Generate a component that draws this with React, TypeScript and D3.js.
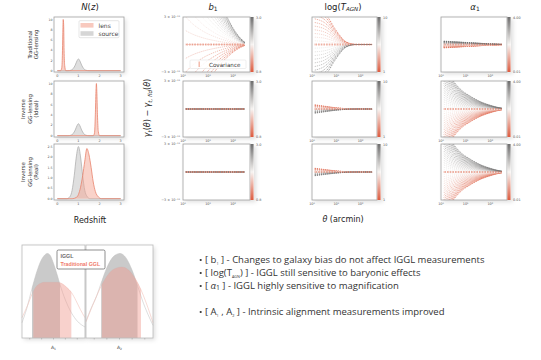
import React from 'react';
import * as d3 from 'd3';

const THETA = [1.3, 2, 3, 5, 8, 13, 20, 35, 60, 100, 170, 300];

// parameter grids varied in each column
const B1_VALUES = [0.8, 0.9, 1.0, 1.1, 1.2, 1.3, 1.4, 1.5, 1.6, 1.7, 1.8, 1.9, 2.0, 2.1, 2.2, 2.3, 2.4, 2.5, 2.6, 2.7, 2.8, 2.9, 3.0];
const B1_FID = 1.5;
const TAGN_VALUES = [7.3, 7.35, 7.4, 7.45, 7.5, 7.55, 7.6, 7.65, 7.7, 7.75, 7.8, 7.85, 7.9, 7.95, 8.0, 8.05, 8.1, 8.15, 8.2, 8.25, 8.3];
const TAGN_FID = 7.8;
const ALPHA_VALUES = [
  0.0, 0.1, 0.2, 0.3, 0.4, 0.5, 0.6, 0.7, 0.8, 0.9, 1.0, 1.1, 1.2, 1.3, 1.4, 1.5, 1.6, 1.7, 1.8, 1.9, 2.0,
  2.1, 2.2, 2.3, 2.4, 2.5, 2.6, 2.7, 2.8, 2.9, 3.0, 3.1, 3.2, 3.3, 3.4, 3.5, 3.6, 3.7, 3.8, 3.9, 4.0,
];
const ALPHA_FID = 2.0;

// change of gamma_t per unit parameter shift (units of 1e-11), one value per THETA
const RESP_B1_TRAD = [15, 12.3, 10.2, 8.1, 6.45, 5.1, 4.05, 2.85, 1.95, 1.2, 0.6, 0.15];
const RESP_B1_INV = [0, 0, 0, 0, 0, 0, 0, 0, 0, 0, 0, 0];
const RESP_TAGN_TRAD = [-8, -7.6, -7, -5.6, -3.8, -2.2, -1, -0.25, 0, 0, 0, 0];
const RESP_TAGN_IDEAL = [-0.9, -0.77, -0.63, -0.47, -0.32, -0.2, -0.11, -0.04, -0.01, 0, 0, 0];
const RESP_TAGN_REAL = [-0.8, -0.68, -0.56, -0.42, -0.29, -0.18, -0.1, -0.03, -0.01, 0, 0, 0];
const RESP_ALPHA_TRAD = [0.18, 0.17, 0.155, 0.14, 0.12, 0.105, 0.09, 0.07, 0.05, 0.032, 0.016, 0.004];
const RESP_ALPHA_INV = [2.5, 1.95, 1.55, 1.18, 0.93, 0.75, 0.6, 0.43, 0.3, 0.2, 0.11, 0.04];

// redshift distributions
const NZ_SRC_Z = [0, 0.5, 0.65, 0.75, 0.85, 0.93, 1.0, 1.07, 1.15, 1.25, 1.35, 1.5, 3];
const NZ_SRC_N = [0, 0, 0.1, 0.4, 1.1, 1.9, 2.3, 1.9, 1.1, 0.4, 0.1, 0, 0];
const NZ_LENS_TRAD_Z = [0, 0.15, 0.21, 0.24, 0.26, 0.28, 0.3, 0.32, 0.35, 0.4, 3];
const NZ_LENS_TRAD_N = [0, 0, 0.5, 3, 7, 10, 9, 4, 1, 0, 0];
const NZ_LENS_IDEAL_Z = [0, 1.7, 1.76, 1.8, 1.83, 1.85, 1.87, 1.9, 1.94, 2.0, 3];
const NZ_LENS_IDEAL_N = [0, 0, 0.5, 4, 8.5, 10, 8.5, 4, 0.8, 0, 0];
const NZ_SRC_REAL_Z = [0, 0.45, 0.6, 0.7, 0.8, 0.9, 1.0, 1.1, 1.2, 1.3, 1.4, 1.55, 3];
const NZ_SRC_REAL_N = [0, 0, 0.1, 0.4, 1.1, 2.0, 2.5, 2.0, 1.1, 0.4, 0.12, 0, 0];
const NZ_LENS_REAL_Z = [0, 0.7, 0.9, 1.0, 1.1, 1.2, 1.3, 1.4, 1.5, 1.6, 1.7, 1.8, 1.95, 2.1, 3];
const NZ_LENS_REAL_N = [0, 0, 0.06, 0.2, 0.55, 1.1, 1.8, 2.4, 2.1, 1.5, 0.8, 0.35, 0.08, 0, 0];

// intrinsic alignment posteriors
const A1_IGGL_X = [-5.3, -4.5, -3.6, -3, -2.2, -1.5, -1, -0.5, 0, 0.6, 1.1, 2, 3, 4, 5.3];
const A1_IGGL_P = [0.18, 0.35, 0.59, 0.74, 0.9, 0.98, 1.0, 0.97, 0.88, 0.75, 0.63, 0.45, 0.3, 0.2, 0.13];
const A1_TRAD_X = [-5.3, -4.4, -3.6, -3, -2.4, -1.5, -0.5, 0.5, 1.5, 2.2, 3, 3.8, 4.5, 5.3];
const A1_TRAD_P = [0.24, 0.38, 0.52, 0.6, 0.64, 0.66, 0.66, 0.66, 0.64, 0.6, 0.54, 0.44, 0.34, 0.24];
const A2_IGGL_X = [-5.3, -4.5, -3.6, -2.9, -2, -1, 0.1, 1, 2, 2.85, 3.6, 4.5, 5.3];
const A2_IGGL_P = [0.2, 0.35, 0.5, 0.65, 0.83, 0.96, 1.0, 0.95, 0.8, 0.62, 0.45, 0.28, 0.15];
const A2_TRAD_X = [-5.3, -4.5, -3.6, -2.8, -2, -1, 0.35, 1.5, 2.5, 3.4, 4.2, 5.3];
const A2_TRAD_P = [0.19, 0.34, 0.5, 0.63, 0.73, 0.81, 0.84, 0.8, 0.7, 0.57, 0.42, 0.18];
const A1_IGGL_CI = [-3.6, 1.1];
const A1_TRAD_CI = [-3.4, 3.0];
const A2_IGGL_CI = [-2.9, 2.85];
const A2_TRAD_CI = [-2.8, 3.4];

const ROW_LABELS = [['Traditional', 'GG-lensing'], ['Inverse', 'GG-lensing', '(Ideal)'], ['Inverse', 'GG-lensing', '(Real)']];

// layout
const ROW_Y = [[17, 72], [81, 137], [144, 200]];
const COL_X = [[183, 250], [312, 377], [441, 507]];
const NZ_X = [54, 124];

const FONT = 'DejaVu Sans, sans-serif';
const cmap = d3.scaleLinear<string>().domain([0, 0.5, 1]).range(['#dd5b3f', '#f7f4f2', '#6d6d6d']).interpolate(d3.interpolateRgb);

const COLUMNS = [
  { key: 'b1', values: B1_VALUES, fid: B1_FID, lo: 0.8, hi: 3.0, cbar: ['3.0', '0.8'], resp: [RESP_B1_TRAD, RESP_B1_INV, RESP_B1_INV] },
  { key: 'tagn', values: TAGN_VALUES, fid: TAGN_FID, lo: 7.3, hi: 8.3, cbar: ['10', '1'], resp: [RESP_TAGN_TRAD, RESP_TAGN_IDEAL, RESP_TAGN_REAL] },
  { key: 'alpha', values: ALPHA_VALUES, fid: ALPHA_FID, lo: 0, hi: 4, cbar: ['4.00', '0.01'], resp: [RESP_ALPHA_TRAD, RESP_ALPHA_INV, RESP_ALPHA_INV] },
];

const RespPanel = ({ ci, ri }: { ci: number; ri: number }) => {
  const col = COLUMNS[ci];
  const [x0, x1] = COL_X[ci];
  const [y0, y1] = ROW_Y[ri];
  const x = d3.scaleLog().domain([1, 480]).range([x0, x1]);
  const y = d3.scaleLinear().domain([-3, 3]).range([y1, y0]);
  const resp = col.resp[ri];
  const line = d3.line<number>().x((_, i) => x(THETA[i])).y(d => y(d)).curve(d3.curveMonotoneX);
  const clip = `clip-${ci}-${ri}`;
  const curves = col.values.map(p => ({ p, pts: resp.map(r => (p - col.fid) * r) }));
  return (
    <g>
      <rect x={x0} y={y0} width={x1 - x0 + 4} height={y1 - y0} fill="#fff" filter="url(#shadow)" />
      <clipPath id={clip}><rect x={x0} y={y0} width={x1 - x0} height={y1 - y0} /></clipPath>
      <g clipPath={`url(#${clip})`}>
        {curves.map((c, i) => (
          <path key={i} d={line(c.pts) || ''} fill="none"
            stroke={cmap((c.p - col.lo) / (col.hi - col.lo))}
            strokeWidth={0.7} strokeDasharray="1.2,0.9" opacity={0.95} />
        ))}
        <line x1={x(THETA[0])} x2={x(THETA[THETA.length - 1])} y1={y(0)} y2={y(0)}
          stroke="#e06a50" strokeWidth={2.2} strokeDasharray="0.6,1.0" opacity={0.85} />
      </g>
      <rect x={x0} y={y0} width={x1 - x0} height={y1 - y0} fill="none" stroke="#a0a0a0" strokeWidth={0.8} />
      <rect x={x1 + 0.4} y={y0} width={3.2} height={y1 - y0} fill="url(#cmapGrad)" />
      <text x={x1 + 6} y={y0 + 1.5} fontSize={3.4} fill="#555" fontFamily={FONT}>{col.cbar[0]}</text>
      <text x={x1 + 6} y={y1 + 1} fontSize={3.4} fill="#555" fontFamily={FONT}>{col.cbar[1]}</text>
      {[1, 10, 100].map((t, i) => (
        <text key={t} x={x(t)} y={y1 + 4.5} fontSize={3.4} fill="#555" textAnchor="middle" fontFamily={FONT}>
          {['10⁰', '10¹', '10²'][i]}
        </text>
      ))}
      {ci === 0 && (
        <g fontSize={3.4} fill="#555" textAnchor="end" fontFamily={FONT}>
          <text x={x0 - 3} y={y0 + 1.2}>3 × 10⁻¹¹</text>
          <text x={x0 - 3} y={y1 + 1.2}>−3 × 10⁻¹¹</text>
        </g>
      )}
      {ci === 0 && ri === 0 && (
        <g>
          <rect x={190} y={60} width={56} height={8.5} rx={1} fill="#fff" fillOpacity={0.85} stroke="#ddd" strokeWidth={0.5} />
          <rect x={198.5} y={61.5} width={1.4} height={5.5} fill="#f2b6a6" />
          <text x={209} y={66.6} fontSize={5.6} fill="#333" fontFamily={FONT}>Covariance</text>
        </g>
      )}
    </g>
  );
};

const NzPanel = ({ ri }: { ri: number }) => {
  const [y0, y1] = ROW_Y[ri];
  const x = d3.scaleLinear().domain([0, 3]).range([57.3, 120.7]);
  const yMax = ri === 2 ? 2.5 : 10;
  const y = d3.scaleLinear().domain([0, yMax]).range([y1 - 1.3, y0 + 2.5]);
  const area = d3.area<[number, number]>().x(d => x(d[0])).y0(y(0)).y1(d => y(d[1])).curve(d3.curveMonotoneX);
  const lineG = d3.line<[number, number]>().x(d => x(d[0])).y(d => y(d[1])).curve(d3.curveMonotoneX);
  const srcZ = ri === 2 ? NZ_SRC_REAL_Z : NZ_SRC_Z;
  const srcN = ri === 2 ? NZ_SRC_REAL_N : NZ_SRC_N;
  const lensZ = [NZ_LENS_TRAD_Z, NZ_LENS_IDEAL_Z, NZ_LENS_REAL_Z][ri];
  const lensN = [NZ_LENS_TRAD_N, NZ_LENS_IDEAL_N, NZ_LENS_REAL_N][ri];
  const src = srcZ.map((z, i) => [z, srcN[i]] as [number, number]);
  const lens = lensZ.map((z, i) => [z, lensN[i]] as [number, number]);
  const yTicks = ri === 2 ? [0, 0.5, 1, 1.5, 2, 2.5] : [0, 2, 4, 6, 8, 10];
  const cy = (y0 + y1) / 2;
  const labels = ROW_LABELS[ri];
  const lx = labels.length === 2 ? [30, 36.5] : [23.5, 30, 36.5];
  return (
    <g>
      <rect x={NZ_X[0]} y={y0} width={NZ_X[1] - NZ_X[0]} height={y1 - y0} fill="#fff" filter="url(#shadow)" />
      <path d={area(src) || ''} fill="#c4c4c4" fillOpacity={0.55} />
      <path d={lineG(src) || ''} fill="none" stroke="#b0b0b0" strokeWidth={0.8} />
      <path d={area(lens) || ''} fill="#f3a593" fillOpacity={0.5} />
      <path d={lineG(lens) || ''} fill="none" stroke="#e8836c" strokeWidth={0.8} />
      <rect x={NZ_X[0]} y={y0} width={NZ_X[1] - NZ_X[0]} height={y1 - y0} fill="none" stroke="#a0a0a0" strokeWidth={0.8} />
      {[0, 1, 2, 3].map(t => (
        <text key={t} x={x(t)} y={y1 + 4.5} fontSize={3.4} fill="#555" textAnchor="middle" fontFamily={FONT}>{t}</text>
      ))}
      {yTicks.map(t => (
        <text key={t} x={NZ_X[0] - 1.5} y={y(t) + 1.2} fontSize={3.2} fill="#555" textAnchor="end" fontFamily={FONT}>
          {ri === 2 ? t.toFixed(1) : t}
        </text>
      ))}
      {labels.map((s, i) => (
        <text key={i} transform={`translate(${lx[i]},${cy}) rotate(-90)`} textAnchor="middle" dy="0.35em"
          fontSize={5.4} fill="#333" fontFamily={FONT}>{s}</text>
      ))}
      {ri === 0 && (
        <g fontFamily={FONT} fontSize={6} fill="#444">
          <rect x={79} y={20.7} width={40} height={17} rx={1} fill="#fff" stroke="#ccc" strokeWidth={0.5} />
          <rect x={80.5} y={23} width={13} height={4.6} fill="#f3a593" fillOpacity={0.6} />
          <rect x={80.5} y={31.2} width={13} height={4.6} fill="#c4c4c4" fillOpacity={0.7} />
          <text x={98.5} y={27.5}>lens</text>
          <text x={98.5} y={35.7}>source</text>
        </g>
      )}
    </g>
  );
};

const PostPanel = ({ idx }: { idx: number }) => {
  const [px0, px1] = idx === 0 ? [22, 85] : [86, 153];
  const py0 = 245, py1 = 338;
  const x = d3.scaleLinear().domain([-5.3, 5.3]).range([px0, px1]);
  const y = d3.scaleLinear().domain([0, 1.1]).range([py1, py0]);
  const igX = idx === 0 ? A1_IGGL_X : A2_IGGL_X;
  const igP = idx === 0 ? A1_IGGL_P : A2_IGGL_P;
  const trX = idx === 0 ? A1_TRAD_X : A2_TRAD_X;
  const trP = idx === 0 ? A1_TRAD_P : A2_TRAD_P;
  const igCI = idx === 0 ? A1_IGGL_CI : A2_IGGL_CI;
  const trCI = idx === 0 ? A1_TRAD_CI : A2_TRAD_CI;
  const ig = igX.map((a, i) => [a, igP[i]] as [number, number]);
  const tr = trX.map((a, i) => [a, trP[i]] as [number, number]);
  const area = d3.area<[number, number]>().x(d => x(d[0])).y0(y(0)).y1(d => y(d[1])).curve(d3.curveMonotoneX);
  const line = d3.line<[number, number]>().x(d => x(d[0])).y(d => y(d[1])).curve(d3.curveMonotoneX);
  const id = `post-${idx}`;
  return (
    <g>
      <rect x={px0} y={py0} width={px1 - px0} height={py1 - py0} fill="#fff" filter="url(#shadow)" />
      <clipPath id={`${id}-ig`}><rect x={x(igCI[0])} y={py0} width={x(igCI[1]) - x(igCI[0])} height={py1 - py0} /></clipPath>
      <clipPath id={`${id}-tr`}><rect x={x(trCI[0])} y={py0} width={x(trCI[1]) - x(trCI[0])} height={py1 - py0} /></clipPath>
      <path d={line(ig) || ''} fill="none" stroke="#c8c8c8" strokeWidth={0.6} />
      <path d={line(tr) || ''} fill="none" stroke="#f2c2bb" strokeWidth={0.6} />
      <path d={area(ig) || ''} fill="#bdbdbd" fillOpacity={0.8} clipPath={`url(#${id}-ig)`} />
      <path d={area(tr) || ''} fill="#ef9a8e" fillOpacity={0.45} clipPath={`url(#${id}-tr)`} />
      <rect x={px0} y={py0} width={px1 - px0} height={py1 - py0} fill="none" stroke="#bbb" strokeWidth={0.8} />
      {[-4, -2, 0, 2, 4].map(t => (
        <line key={t} x1={x(t)} x2={x(t)} y1={py1} y2={py1 + 1.5} stroke="#888" strokeWidth={0.4} />
      ))}
      <text x={(px0 + px1) / 2} y={349} fontSize={4.6} fill="#444" textAnchor="middle" fontFamily={FONT}>
        A<tspan fontSize={3} dy={1}>{idx + 1}</tspan>
      </text>
    </g>
  );
};

// subscript followed by the rest of the line back on the baseline
const Sub = ({ s, tail }: { s: string; tail: string }) => (
  <>
    <tspan fontSize={3.8} dy={1.8}>{s}</tspan>
    <tspan dy={-1.8}>{tail}</tspan>
  </>
);

const App = () => {
  const bx = 205;
  const bullets = [
    { y: 263, el: <>[ b<Sub s="1" tail=" ] - Changes to galaxy bias do not affect IGGL measurements" /></> },
    { y: 276, el: <>[ log(T<Sub s="AGN" tail=") ] - IGGL still sensitive to baryonic effects" /></> },
    { y: 289, el: <>[ <tspan fontStyle="italic">α</tspan><tspan fontSize={6.8} dy={1}>1</tspan><tspan dy={-1}> ] - IGGL highly sensitive to magnification</tspan></> },
    { y: 315, el: <>[ A<Sub s="1" tail=" , A" /><Sub s="2" tail="  ] - Intrinsic alignment measurements improved" /></> },
  ];
  return (
    <svg width={541} height={360} style={{ position: 'absolute', left: 0, top: 0, background: '#fff' }}>
      <defs>
        <filter id="shadow" x="-20%" y="-20%" width="150%" height="150%">
          <feDropShadow dx={2} dy={2} stdDeviation={2.2} floodColor="#000" floodOpacity={0.13} />
        </filter>
        <linearGradient id="cmapGrad" x1="0" y1="1" x2="0" y2="0">
          {[0, 0.1, 0.2, 0.3, 0.4, 0.5, 0.6, 0.7, 0.8, 0.9, 1].map(t => (
            <stop key={t} offset={`${t * 100}%`} stopColor={cmap(t)} />
          ))}
        </linearGradient>
      </defs>

      {/* column titles */}
      <g fontFamily={FONT} fontSize={8.5} fill="#222" textAnchor="middle">
        <text x={90} y={9.5}><tspan fontStyle="italic">N</tspan>(<tspan fontStyle="italic">z</tspan>)</text>
        <text x={213} y={9.5}><tspan fontStyle="italic">b</tspan><tspan fontSize={6} dy={1.5}>1</tspan></text>
        <text x={343} y={9.5}>log(<tspan fontStyle="italic">T</tspan><tspan fontSize={5.5} fontStyle="italic" dy={1.5}>AGN</tspan><tspan dy={-1.5}>)</tspan></text>
        <text x={475} y={9.5}><tspan fontStyle="italic">α</tspan><tspan fontSize={6} dy={1.5}>1</tspan></text>
      </g>

      {[0, 1, 2].map(ri => <NzPanel key={ri} ri={ri} />)}
      {[0, 1, 2].map(ci => [0, 1, 2].map(ri => <RespPanel key={`${ci}-${ri}`} ci={ci} ri={ri} />))}

      <g fontFamily={FONT} fontSize={8} fill="#222" textAnchor="middle">
        <text x={90} y={223}>Redshift</text>
        <text x={343} y={222}><tspan fontStyle="italic">θ</tspan> (arcmin)</text>
        <text transform="translate(150,108) rotate(-90)" textAnchor="middle">
          <tspan fontStyle="italic">γ</tspan><tspan fontSize={5.5} fontStyle="italic" dy={1.5}>t</tspan>
          <tspan dy={-1.5}>(</tspan><tspan fontStyle="italic">θ</tspan>) − <tspan fontStyle="italic">γ</tspan>
          <tspan fontSize={5.5} fontStyle="italic" dy={1.5}>t, fid</tspan><tspan dy={-1.5}>(</tspan>
          <tspan fontStyle="italic">θ</tspan>)
        </text>
      </g>

      <PostPanel idx={0} />
      <PostPanel idx={1} />
      <g fontFamily="Liberation Sans, Arial, sans-serif" fontWeight="bold" fontSize={5.3}>
        <rect x={57} y={250} width={48} height={19} rx={1.5} fill="#fff" stroke="#444" strokeWidth={0.6} />
        <text x={60.5} y={257.5} fill="#6a6a6a">IGGL</text>
        <text x={60.5} y={265.5} fill="#f07a6a">Traditional GGL</text>
      </g>

      <g fontFamily="Open Sans, sans-serif" fontSize={9.5} fill="#333">
        {bullets.map((b, i) => (
          <g key={i}>
            <circle cx={bx - 4.3} cy={b.y - 3} r={1.1} fill="#333" />
            <text x={bx} y={b.y}>{b.el}</text>
          </g>
        ))}
      </g>
    </svg>
  );
};

export default App;
